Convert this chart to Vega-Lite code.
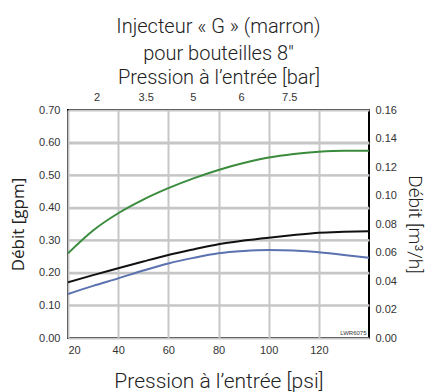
{
  "$schema": "https://vega.github.io/schema/vega-lite/v6.json",
  "width": 301,
  "height": 228,
  "autosize": "none",
  "padding": {"left": 68, "top": 110, "right": 57, "bottom": 54},
  "background": "white",
  "title": {
    "text": ["Injecteur « G » (marron)", "pour bouteilles 8\""],
    "font": "Roboto",
    "fontSize": 20,
    "fontWeight": 300,
    "color": "#222",
    "lineHeight": 27,
    "offset": 3,
    "anchor": "middle"
  },
  "config": {
    "view": {"stroke": "black", "strokeWidth": 2},
    "axis": {
      "labelFont": "Liberation Sans",
      "labelFontSize": 11,
      "labelColor": "#333",
      "labelOverlap": false,
      "titleFont": "Roboto",
      "titleFontSize": 20,
      "titleFontWeight": 300,
      "titleColor": "#222",
      "domain": false,
      "ticks": false,
      "gridColor": "#c6c6c6",
      "gridWidth": 2,
      "gridOpacity": 1
    }
  },
  "layer": [
    {
      "data": {
        "values": [
          {"psi": 20, "gpm": 0.1, "s": "h1"}, {"psi": 140, "gpm": 0.1, "s": "h1"},
          {"psi": 20, "gpm": 0.2, "s": "h2"}, {"psi": 140, "gpm": 0.2, "s": "h2"},
          {"psi": 20, "gpm": 0.3, "s": "h3"}, {"psi": 140, "gpm": 0.3, "s": "h3"},
          {"psi": 20, "gpm": 0.4, "s": "h4"}, {"psi": 140, "gpm": 0.4, "s": "h4"},
          {"psi": 20, "gpm": 0.5, "s": "h5"}, {"psi": 140, "gpm": 0.5, "s": "h5"},
          {"psi": 20, "gpm": 0.6, "s": "h6"}, {"psi": 140, "gpm": 0.6, "s": "h6"},
          {"psi": 20, "gpm": 0.26, "s": "g"}, {"psi": 30, "gpm": 0.33, "s": "g"}, {"psi": 40, "gpm": 0.383, "s": "g"}, {"psi": 50, "gpm": 0.425, "s": "g"}, {"psi": 60, "gpm": 0.46, "s": "g"}, {"psi": 70, "gpm": 0.49, "s": "g"}, {"psi": 80, "gpm": 0.516, "s": "g"}, {"psi": 90, "gpm": 0.537, "s": "g"}, {"psi": 100, "gpm": 0.554, "s": "g"}, {"psi": 110, "gpm": 0.565, "s": "g"}, {"psi": 120, "gpm": 0.572, "s": "g"}, {"psi": 130, "gpm": 0.575, "s": "g"}, {"psi": 140, "gpm": 0.575, "s": "g"},
          {"psi": 20, "gpm": 0.171, "s": "k"}, {"psi": 30, "gpm": 0.193, "s": "k"}, {"psi": 40, "gpm": 0.214, "s": "k"}, {"psi": 50, "gpm": 0.235, "s": "k"}, {"psi": 60, "gpm": 0.255, "s": "k"}, {"psi": 70, "gpm": 0.272, "s": "k"}, {"psi": 80, "gpm": 0.288, "s": "k"}, {"psi": 90, "gpm": 0.299, "s": "k"}, {"psi": 100, "gpm": 0.308, "s": "k"}, {"psi": 110, "gpm": 0.316, "s": "k"}, {"psi": 120, "gpm": 0.323, "s": "k"}, {"psi": 130, "gpm": 0.326, "s": "k"}, {"psi": 140, "gpm": 0.328, "s": "k"},
          {"psi": 20, "gpm": 0.135, "s": "b"}, {"psi": 30, "gpm": 0.16, "s": "b"}, {"psi": 40, "gpm": 0.183, "s": "b"}, {"psi": 50, "gpm": 0.207, "s": "b"}, {"psi": 60, "gpm": 0.229, "s": "b"}, {"psi": 70, "gpm": 0.246, "s": "b"}, {"psi": 80, "gpm": 0.26, "s": "b"}, {"psi": 90, "gpm": 0.267, "s": "b"}, {"psi": 100, "gpm": 0.27, "s": "b"}, {"psi": 110, "gpm": 0.269, "s": "b"}, {"psi": 120, "gpm": 0.263, "s": "b"}, {"psi": 130, "gpm": 0.255, "s": "b"}, {"psi": 140, "gpm": 0.246, "s": "b"}
        ]
      },
      "mark": {"type": "line", "strokeWidth": 2, "interpolate": "monotone", "clip": true},
      "encoding": {
        "x": {
          "field": "psi", "type": "quantitative",
          "scale": {"domain": [20, 140], "nice": false, "zero": false},
          "axis": {
            "orient": "bottom",
            "values": [20, 40, 60, 80, 100, 120],
            "grid": true,
            "labelFlush": true,
            "labelPadding": 6,
            "title": "Pression à l’entrée [psi]",
            "titleFontSize": 21,
            "titlePadding": 15
          }
        },
        "y": {
          "field": "gpm", "type": "quantitative",
          "scale": {"domain": [0, 0.7], "nice": false},
          "axis": {
            "orient": "left",
            "values": [0, 0.1, 0.2, 0.3, 0.4, 0.5, 0.6, 0.7],
            "format": ".2f",
            "labelPadding": 8,
            "title": "Débit [gpm]",
            "titleFont": "Open Sans",
            "titleFontSize": 17,
            "titleFontWeight": "normal",
            "titlePadding": 11
          }
        },
        "color": {
          "field": "s", "type": "nominal",
          "scale": {
            "domain": ["h1", "h2", "h3", "h4", "h5", "h6", "g", "k", "b"],
            "range": ["#c6c6c6", "#c6c6c6", "#c6c6c6", "#c6c6c6", "#c6c6c6", "#c6c6c6", "#3a8c3c", "#111111", "#5b72b0"]
          },
          "legend": null
        }
      }
    },
    {
      "data": {"values": [{"psi": 139, "gpm": 0.006, "label": "LWR6075"}]},
      "mark": {"type": "text", "align": "right", "baseline": "bottom", "fontSize": 6, "font": "Liberation Sans", "color": "#333"},
      "encoding": {
        "x": {"field": "psi", "type": "quantitative", "axis": null},
        "y": {"field": "gpm", "type": "quantitative", "scale": {"domain": [0, 0.7], "nice": false}, "axis": null},
        "text": {"field": "label"}
      }
    },
    {
      "data": {"values": [{"psi": 31.4, "bar": "2"}, {"psi": 51, "bar": "3.5"}, {"psi": 69.8, "bar": "5"}, {"psi": 89, "bar": "6"}, {"psi": 108.2, "bar": "7.5"}]},
      "mark": {"type": "point", "opacity": 0},
      "encoding": {
        "x": {
          "field": "psi", "type": "quantitative",
          "axis": {
            "orient": "top",
            "values": [31.4, 51, 69.8, 89, 108.2],
            "labelExpr": "datum.value < 40 ? '2' : datum.value < 60 ? '3.5' : datum.value < 80 ? '5' : datum.value < 100 ? '6' : '7.5'",
            "grid": false,
            "labelPadding": 8,
            "title": "Pression à l’entrée [bar]",
            "titlePadding": 4
          }
        }
      }
    },
    {
      "data": {"values": [{"m3h": 0}, {"m3h": 0.16}]},
      "mark": {"type": "point", "opacity": 0},
      "encoding": {
        "y": {
          "field": "m3h", "type": "quantitative",
          "scale": {"domain": [0, 0.16], "nice": false},
          "axis": {
            "orient": "right",
            "values": [0, 0.02, 0.04, 0.06, 0.08, 0.1, 0.12, 0.14, 0.16],
            "format": ".2f",
            "grid": false,
            "labelPadding": 6,
            "title": "Débit [m³/h]",
            "titleFontSize": 19,
            "titlePadding": 8
          }
        }
      }
    }
  ],
  "resolve": {"scale": {"y": "independent"}, "axis": {"x": "independent", "y": "independent"}}
}
